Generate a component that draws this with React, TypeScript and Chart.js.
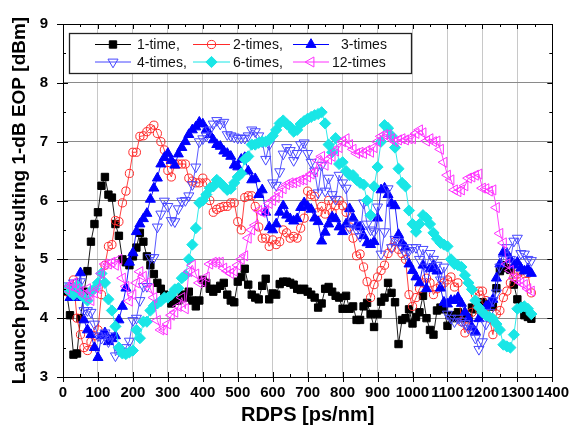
import React, { useEffect, useRef } from "react";
import { Chart, registerables } from "chart.js";

Chart.register(...registerables);

const RDPS = [
  10, 20, 30, 40, 50, 60, 70, 80, 90, 100,
  110, 120, 130, 140, 150, 160, 170, 180, 190, 200,
  210, 220, 230, 240, 250, 260, 270, 280, 290, 300,
  310, 320, 330, 340, 350, 360, 370, 380, 390, 400,
  410, 420, 430, 440, 450, 460, 470, 480, 490, 500,
  510, 520, 530, 540, 550, 560, 570, 580, 590, 600,
  610, 620, 630, 640, 650, 660, 670, 680, 690, 700,
  710, 720, 730, 740, 750, 760, 770, 780, 790, 800,
  810, 820, 830, 840, 850, 860, 870, 880, 890, 900,
  910, 920, 930, 940, 950, 960, 970, 980, 990, 1000,
  1010, 1020, 1030, 1040, 1050, 1060, 1070, 1080, 1090, 1100,
  1110, 1120, 1130, 1140, 1150, 1160, 1170, 1180, 1190, 1200,
  1210, 1220, 1230, 1240, 1250, 1260, 1270, 1280, 1290, 1300,
  1310, 1320, 1330, 1340,
];

const ONE_TIME = [
  4.45, 4.05, 3.38, 3.4, 4.0, 4.45, 4.8, 5.3, 5.6, 5.8,
  6.25, 6.4, 6.1, 6.05, 5.6, 5.4, 5.0, 4.95, 4.9, 5.05,
  5.2, 5.45, 5.3, 5.05, 4.9, 4.75, 4.6, 4.5, 4.4, 4.35,
  4.25, 4.3, 4.3, 4.4, 4.35, 4.45, 4.3, 4.2, 4.3, 4.65,
  4.6, 4.5, 4.45, 4.5, 4.55, 4.6, 4.4, 4.3, 4.27, 4.62,
  4.7, 4.84, 4.57, 4.4, 4.35, 4.32, 4.55, 4.67, 4.32, 4.42,
  4.4, 4.58, 4.62, 4.62, 4.6, 4.57, 4.5, 4.48, 4.5, 4.45,
  4.4, 4.35, 4.18, 4.25, 4.5, 4.53, 4.45, 4.38, 4.35, 4.16,
  4.38, 4.16, 4.2, 3.97, 3.97, 4.2, 4.26, 4.07, 3.85, 4.07,
  4.28, 4.35, 4.6, 4.43, 4.27, 3.56, 3.97, 4.0, 4.15, 3.91,
  4.02, 4.1, 4.38, 4.0, 3.8, 3.72, 4.13, 4.18, 4.15, 3.87,
  4.05, 4.0, 4.1, 4.0, 4.05, 4.0, 4.18, 4.15, 4.2, 4.27,
  4.24, 4.2, 4.2, 4.51, 4.8, 4.9, 4.85, 4.82, 4.57, 4.32,
  4.2, 4.05, 4.02, 3.99,
];

const TWO_TIMES = [
  4.45, 4.5, 4.65, 4.0, 3.72, 3.5, 3.45, 3.6, 3.7, 3.8,
  4.4, 4.9, 5.22, 5.25, 5.66, 5.64, 5.96, 6.16, 6.46, 6.82,
  6.82, 7.09, 7.1, 7.17, 7.22, 7.28, 7.14, 7.0, 6.86, 6.51,
  6.4, 6.62, 6.62, 6.62, 6.62, 6.38, 6.33, 6.3, 6.3, 6.38,
  6.3, 6.0, 5.8, 5.85, 5.88, 5.9, 5.9, 5.96, 5.96, 5.64,
  5.5, 6.05, 6.08, 6.08, 5.9, 5.55, 5.36, 5.36, 5.22, 5.33,
  5.25, 5.3, 5.5, 5.45, 5.36, 5.39, 5.36, 5.53, 5.7, 6.16,
  6.1, 6.07, 5.8, 5.9, 5.77, 6.0, 5.8, 5.91, 6.0, 5.91,
  5.8, 5.55, 5.36, 5.06, 5.09, 4.87, 4.62, 4.35, 4.57, 4.7,
  4.81, 4.9, 5.1, 5.2, 5.3, 5.17, 5.1, 5.0, 4.4, 4.2,
  4.35, 4.5, 4.6, 4.68, 4.6, 4.4, 4.5, 4.55, 4.6, 4.65,
  4.7, 4.53, 4.6, 3.94, 3.75, 3.85, 4.1, 4.4, 4.46, 4.46,
  4.3, 4.0, 3.72, 4.07, 4.13, 4.35, 4.46, 4.6, 4.7, 4.75,
  4.8, 4.76, 4.76, 4.43,
];

const THREE_TIMES = [
  4.5, 4.35, 4.5, 4.35, 4.77, 3.97, 3.8, 3.72, 3.5, 3.33,
  3.7, 3.75, 3.6, 3.65, 3.7, 3.97, 4.2, 4.51, 4.95, 5.11,
  5.47, 5.6, 5.69, 5.78, 6.02, 6.21, 6.38, 6.62, 6.73, 6.8,
  6.68, 6.6, 6.79, 6.9, 7.0, 7.12, 7.2, 7.25, 7.33, 7.3,
  7.2, 7.12, 7.03, 6.95, 6.92, 6.84, 6.8, 6.75, 6.6, 6.57,
  6.7, 6.73, 6.5, 6.35, 6.37, 6.1, 6.18, 5.8, 5.55, 5.5,
  5.6, 5.8, 5.91, 5.75, 5.69, 5.65, 5.69, 5.88, 5.96, 5.9,
  5.85, 5.7, 5.64, 5.31, 5.46, 5.6, 5.72, 5.69, 5.55, 5.47,
  5.6, 5.86, 5.7, 5.58, 5.55, 5.4, 5.28, 5.25, 5.3, 5.7,
  6.18, 6.21, 6.1, 5.95, 5.91, 5.42, 5.28, 5.2, 4.92, 4.81,
  4.7, 4.6, 4.9, 4.5, 4.84, 4.9, 4.8, 4.51, 4.27, 4.24,
  4.3, 4.3, 4.35, 4.25, 4.1, 4.0, 3.85, 3.77, 3.99, 4.1,
  4.2, 4.25, 4.32, 4.68, 4.92, 5.12, 5.1, 5.0, 4.9, 4.95,
  4.85, 4.8, 4.84, 4.76,
];

const FOUR_TIMES = [
  4.55, 4.5, 4.6, 4.4, 4.62, 4.13, 4.13, 4.1, 3.9, 3.7,
  3.66, 3.75, 3.6, 3.7, 3.36, 3.45, 3.44, 3.5, 3.61, 3.96,
  4.0, 4.3, 4.54, 4.54, 5.03, 5.03, 5.55, 5.77, 5.99, 5.9,
  5.66, 5.64, 5.86, 5.99, 6.0, 6.08, 6.27, 6.57, 7.0, 7.05,
  7.1, 7.2, 7.3, 7.36, 7.3, 7.33, 7.12, 7.1, 7.08, 7.06,
  7.06, 7.06, 7.1, 7.2, 7.17, 7.1, 7.0, 6.7, 6.95, 6.3,
  6.26, 6.49, 6.79, 6.9, 6.85, 6.68, 6.8, 6.95, 6.98, 6.8,
  6.65, 6.5, 6.13, 6.6, 6.16, 6.38, 6.1, 6.02, 6.43, 6.3,
  6.21, 5.53, 5.6, 5.5, 5.39, 5.96, 5.6, 5.5, 5.47, 5.89,
  5.09, 5.47, 6.2, 5.2, 5.34, 5.3, 5.2, 5.1, 5.15, 5.2,
  5.2, 5.0, 5.17, 4.87, 5.1, 5.0, 4.9, 4.65, 4.87, 4.07,
  4.0, 3.94, 4.0, 3.95, 3.91, 3.83, 3.8, 3.66, 3.47, 3.6,
  3.9, 4.1, 4.3, 4.43, 4.87, 5.0, 5.2, 5.0, 5.31, 5.36,
  5.1, 5.09, 5.0, 4.98,
];

const SIX_TIMES = [
  4.5, 4.45, 4.4, 4.55, 4.4, 4.35, 4.3, 4.46, 4.5, 4.6,
  4.76, 4.6, 4.32, 4.13, 3.86, 3.5, 3.4, 3.39, 3.42, 3.45,
  3.8, 3.66, 3.94, 3.94, 4.13, 4.21, 4.25, 4.29, 4.35, 4.35,
  4.4, 4.49, 4.51, 4.68, 4.73, 5.0, 5.25, 5.53, 5.96, 6.0,
  6.1, 6.21, 6.24, 6.35, 6.3, 6.24, 6.18, 6.2, 6.3, 6.4,
  6.46, 6.7, 6.75, 6.95, 6.95, 6.98, 7.0, 7.0, 7.03, 7.1,
  7.2, 7.31, 7.36, 7.3, 7.25, 7.17, 7.2, 7.3, 7.35, 7.39,
  7.42, 7.45, 7.47, 7.5, 7.31, 6.95, 6.82, 7.06, 6.62, 6.65,
  6.5, 6.43, 6.43, 6.35, 6.3, 6.27, 6.0, 5.75, 6.24, 6.57,
  7.0, 7.28, 7.23, 7.1, 6.9, 6.54, 6.3, 6.24, 5.83, 5.6,
  5.47, 5.6, 5.75, 5.7, 5.6, 5.45, 5.35, 5.28, 5.25, 5.22,
  5.0, 4.92, 4.9, 4.87, 4.73, 4.6, 4.49, 4.3, 4.18, 4.1,
  4.05, 4.02, 3.99, 3.9, 3.8, 3.55, 3.52, 3.5, 3.72, 4.16,
  4.18, 4.2, 4.16, 4.07,
];

const TWELVE_TIMES = [
  4.49, 4.55, 4.6, 4.5, 4.46, 4.4, 4.5, 4.3, 4.43, 4.5,
  4.76, 4.92, 4.92, 4.95, 4.9, 5.0, 4.68, 4.54, 4.29, 4.4,
  4.6, 4.79, 4.71, 4.6, 4.5, 4.35, 3.96, 3.8, 3.8, 3.9,
  4.05, 4.1, 4.2, 4.35, 4.16, 4.79, 4.9, 4.75, 4.6, 4.62,
  4.7, 4.92, 4.95, 4.95, 4.95, 4.85, 4.8, 4.76, 4.8, 4.9,
  5.0, 5.06, 5.36, 5.5, 5.58, 5.83, 5.8, 5.83, 5.95, 6.0,
  6.05, 6.13, 6.2, 6.27, 6.3, 6.3, 6.32, 6.35, 6.35, 6.4,
  6.45, 6.49, 6.68, 6.75, 6.6, 6.7, 6.75, 6.84, 6.9, 7.0,
  7.05, 6.95, 6.87, 6.8, 6.82, 6.8, 6.85, 6.82, 6.9, 7.0,
  7.09, 7.12, 7.12, 7.05, 7.0, 7.03, 7.05, 7.03, 7.05, 7.05,
  7.14, 7.2, 7.15, 7.01, 7.05, 7.0, 7.01, 6.87, 6.65, 6.43,
  6.35, 6.18, 6.15, 6.18, 6.25, 6.38, 6.4, 6.43, 6.45, 6.21,
  6.2, 6.16, 6.18, 5.88, 5.44, 5.28, 4.92, 4.81, 4.68, 4.65,
  4.6, 4.57, 4.5, 4.46,
];

const SERIES_LABELS = ["1-time,", "2-times,", "3-times", "4-times,", "6-times,", "12-times"];
const X_TITLE = "RDPS [ps/nm]";
const Y_TITLE = "Launch power resulting 1-dB EOP [dBm]";

const FONT = "Arial, 'Liberation Sans', Helvetica, sans-serif";

type Style = {
  color: string;
  fill: string;
  shape: "rect" | "circle" | "triangle" | "rectRot";
  rotation: number;
  radius: number;
};

const STYLES: Style[] = [
  { color: "#000000", fill: "#000000", shape: "rect", rotation: 0, radius: 5.2 },
  { color: "#ff2a2a", fill: "rgba(255,255,255,0)", shape: "circle", rotation: 0, radius: 4.1 },
  { color: "#0000ff", fill: "#0000ff", shape: "triangle", rotation: 0, radius: 5.8 },
  { color: "#4646ff", fill: "rgba(255,255,255,0)", shape: "triangle", rotation: 180, radius: 5.8 },
  { color: "#19e6e6", fill: "#19e6e6", shape: "rectRot", rotation: 0, radius: 5.6 },
  { color: "#ff30ff", fill: "rgba(255,255,255,0)", shape: "triangle", rotation: 270, radius: 5.8 },
];

function drawMarker(ctx: CanvasRenderingContext2D, s: Style, x: number, y: number) {
  const r = s.radius;
  ctx.beginPath();
  if (s.shape === "rect") {
    const h = Math.SQRT1_2 * r;
    ctx.rect(x - h, y - h, 2 * h, 2 * h);
  } else if (s.shape === "circle") {
    ctx.arc(x, y, r, 0, Math.PI * 2);
  } else if (s.shape === "triangle") {
    let rad = (s.rotation * Math.PI) / 180;
    for (let k = 0; k < 3; k++) {
      const px = x + Math.sin(rad) * r;
      const py = y - Math.cos(rad) * r;
      if (k === 0) ctx.moveTo(px, py);
      else ctx.lineTo(px, py);
      rad += (2 * Math.PI) / 3;
    }
    ctx.closePath();
  } else {
    ctx.moveTo(x, y - r);
    ctx.lineTo(x + r, y);
    ctx.lineTo(x, y + r);
    ctx.lineTo(x - r, y);
    ctx.closePath();
  }
  ctx.fillStyle = s.fill;
  ctx.fill();
  ctx.strokeStyle = s.color;
  ctx.lineWidth = 1;
  ctx.stroke();
}

const framePlugin = {
  id: "frameTicksLegend",
  afterDatasetsDraw(chart: any) {
    const { ctx, chartArea } = chart;
    const { left, right, top, bottom } = chartArea;
    const xs = chart.scales.x;
    const ys = chart.scales.y;
    ctx.save();
    ctx.strokeStyle = "#000";
    ctx.lineWidth = 1;
    ctx.beginPath();
    for (let v = xs.min; v <= xs.max + 0.001; v += 50) {
      const px = Math.round(xs.getPixelForValue(v)) + 0.5;
      const major = Math.round(v) % 100 === 0;
      const len = major ? 5 : 3;
      ctx.moveTo(px, bottom + (major ? 5 : 0));
      ctx.lineTo(px, bottom - len);
      ctx.moveTo(px, top);
      ctx.lineTo(px, top + len);
    }
    for (let v = ys.min; v <= ys.max + 0.001; v += 0.5) {
      const py = Math.round(ys.getPixelForValue(v)) + 0.5;
      const major = Math.abs(v - Math.round(v)) < 0.01;
      const len = major ? 5 : 3;
      ctx.moveTo(left - (major ? 6 : 0), py);
      ctx.lineTo(left + len, py);
      ctx.moveTo(right, py);
      ctx.lineTo(right - len, py);
    }
    ctx.stroke();
    ctx.strokeRect(Math.round(left) + 0.5, Math.round(top) + 0.5, Math.round(right - left), Math.round(bottom - top));

    // legend
    const bx = left + 6;
    const by = top + 9;
    const bw = 342;
    const bh = 40;
    ctx.fillStyle = "#fff";
    ctx.fillRect(bx, by, bw, bh);
    ctx.lineWidth = 1.3;
    ctx.strokeStyle = "#222";
    ctx.strokeRect(bx + 0.5, by + 0.5, bw, bh);
    const cols = [
      { lineStart: 32, lineEnd: 68, text: 74 },
      { lineStart: 130, lineEnd: 167, text: 170 },
      { lineStart: 230, lineEnd: 266, text: 278 },
    ];
    const rows = [top + 20.5, top + 38];
    ctx.font = `14px ${FONT}`;
    ctx.textBaseline = "middle";
    ctx.textAlign = "left";
    for (let i = 0; i < 6; i++) {
      const s = STYLES[i];
      const c = cols[i % 3];
      const ry = rows[Math.floor(i / 3)];
      const x0 = left + c.lineStart;
      const x1 = left + c.lineEnd;
      ctx.strokeStyle = s.color;
      ctx.lineWidth = 1;
      ctx.beginPath();
      ctx.moveTo(x0, ry);
      ctx.lineTo(x1, ry);
      ctx.stroke();
      drawMarker(ctx, s, (x0 + x1) / 2, ry);
      ctx.fillStyle = "#111";
      let tx = left + c.text;
      if (i === 5) tx -= 9;
      ctx.fillText(SERIES_LABELS[i], tx, ry + 1);
    }
    ctx.restore();
  },
};

const SERIES_VALUES = [ONE_TIME, TWO_TIMES, THREE_TIMES, FOUR_TIMES, SIX_TIMES, TWELVE_TIMES];

export default function App() {
  const ref = useRef<HTMLCanvasElement | null>(null);
  useEffect(() => {
    if (!ref.current) return;
    const datasets = SERIES_VALUES.map((vals, i) => {
      const s = STYLES[i];
      return {
        label: SERIES_LABELS[i],
        data: RDPS.map((x, k) => ({ x, y: vals[k] })),
        borderColor: s.color,
        backgroundColor: s.fill,
        borderWidth: 0.9,
        pointStyle: s.shape,
        pointRotation: s.rotation,
        pointRadius: s.radius,
        pointBorderWidth: 1,
        pointBorderColor: s.color,
        pointBackgroundColor: s.fill,
        tension: 0,
        fill: false,
        order: 5 - i,
      };
    });
    const chart = new Chart(ref.current, {
      type: "line",
      data: { datasets },
      options: {
        responsive: false,
        animation: false,
        events: [],
        layout: { padding: { left: 0, right: 16, top: 12, bottom: 0 } },
        plugins: { legend: { display: false }, tooltip: { enabled: false } },
        scales: {
          x: {
            type: "linear",
            min: 0,
            max: 1400,
            afterFit: (sc: any) => {
              sc.height = 53;
            },
            ticks: {
              stepSize: 100,
              autoSkip: false,
              maxRotation: 0,
              minRotation: 0,
              padding: 7,
              color: "#000",
              font: { family: FONT, size: 15, weight: "bold" },
              callback: (v: any) => String(v),
            },
            grid: { color: "#c8c8c8", lineWidth: 1, drawTicks: false },
            border: { display: false },
            title: {
              display: true,
              text: X_TITLE,
              color: "#000",
              font: { family: FONT, size: 20, weight: "bold" },
              padding: { top: 0, bottom: 3 },
            },
          },
          y: {
            type: "linear",
            min: 3,
            max: 9,
            afterFit: (sc: any) => {
              sc.width = 63;
            },
            ticks: {
              stepSize: 1,
              padding: 15,
              color: "#000",
              font: { family: FONT, size: 15, weight: "bold" },
              callback: (v: any) => String(v),
            },
            grid: { color: "#8a8a8a", lineWidth: 1, drawTicks: false },
            border: { display: false },
            title: {
              display: true,
              text: Y_TITLE,
              color: "#000",
              font: { family: FONT, size: 19, weight: "bold" },
              padding: { top: 8, bottom: 0 },
            },
          },
        },
      },
      plugins: [framePlugin],
    } as any);
    return () => chart.destroy();
  }, []);
  return (
    <div style={{ position: "absolute", left: 0, top: 0, width: 576, height: 430, background: "#fff" }}>
      <canvas ref={ref} width={576} height={430} style={{ display: "block", width: 576, height: 430 }} />
    </div>
  );
}
